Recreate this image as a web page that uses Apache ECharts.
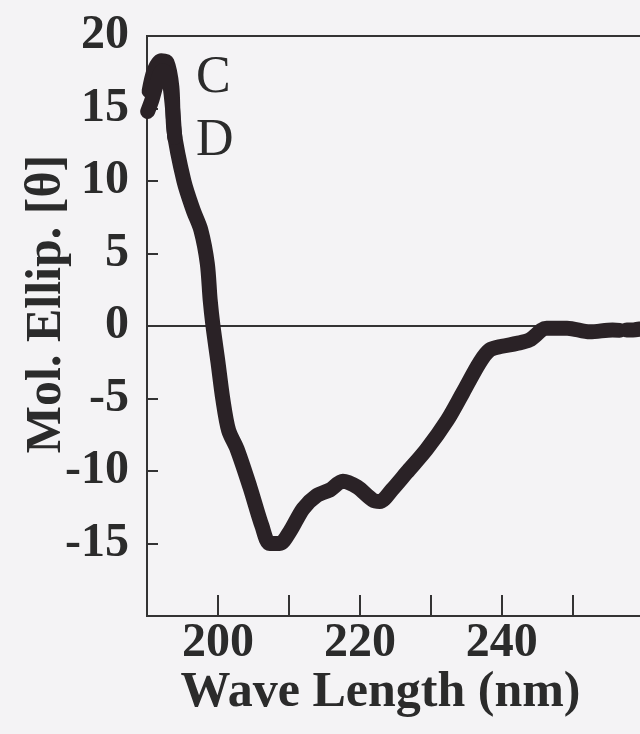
<!DOCTYPE html>
<html style="height: 100%">
  <head>
    <meta charset="utf-8" />
  </head>
  <body style="height: 100%; margin: 0; background: #f4f3f5">
    <div id="container" style="width: 640px; height: 734px"></div>

    <script
      type="text/javascript"
      src="https://cdn.jsdelivr.net/npm/echarts@6/dist/echarts.min.js"
    ></script>

    <script type="text/javascript">
      // CD spectrum, curves C and D (they overlap almost everywhere)
      var curveC = [
        [190.3, 16.2], [191.0, 17.6], [192.0, 18.3], [192.8, 18.2],
        [193.5, 16.5], [193.8, 13.5], [195.2, 10.0], [196.5, 8.0],
        [197.6, 6.6], [198.5, 4.3], [198.9, 1.8], [199.3, 0.0],
        [200.0, -2.5], [200.7, -5.1], [201.5, -7.2], [202.7, -8.5],
        [204.5, -11.1], [206.2, -13.8], [207.3, -15.0], [208.7, -15.0],
        [210.1, -14.2], [212.0, -12.6], [213.9, -11.7], [215.8, -11.3],
        [217.6, -10.7], [219.6, -11.1], [221.8, -12.0], [222.8, -12.1],
        [224.5, -11.3], [226.6, -10.1], [229.4, -8.5], [232.3, -6.5],
        [234.5, -4.6], [236.9, -2.5], [238.3, -1.65], [240.0, -1.4],
        [242.1, -1.2], [243.9, -0.96], [246.3, -0.15], [249.2, -0.15],
        [252.4, -0.4], [255.6, -0.27], [256.6, -0.3]
      ];
      var curveCTail = [[257.6, -0.27], [258.5, -0.27], [260.2, -0.15], [262.0, -0.1]];
      var curveD = [
        [190.1, 14.8], [190.7, 15.6], [191.4, 16.8], [192.2, 17.6],
        [193.0, 17.2], [193.6, 15.0], [193.9, 13.0]
      ];

      var xLabels = [200, 220, 240];
      var xTicks = [200, 210, 220, 230, 240, 250, 260];
      var yLabels = [-15, -10, -5, 0, 5, 10, 15, 20];

      var ink = "#2a2226";
      var textColor = "#2b2b2b";
      var serif = "Liberation Serif";

      var dom = document.getElementById("container");
      var myChart = echarts.init(dom);

      function lineSeries(name, data, withZero) {
        var s = {
          name: name,
          type: "line",
          data: data,
          showSymbol: false,
          smooth: 0.3,
          lineStyle: { color: ink, width: 15, cap: "round", join: "round" },
          z: 3,
        };
        if (withZero) {
          s.markLine = {
            silent: true,
            symbol: "none",
            label: { show: false },
            lineStyle: { color: "#333", width: 2, type: "solid" },
            data: [{ yAxis: 0 }],
            z: 1,
          };
        }
        return s;
      }

      var option = {
        backgroundColor: "#f4f3f5",
        animation: false,
        grid: {
          left: 147,
          top: 36,
          width: 511,
          height: 580,
          outerBoundsMode: "none",
          containLabel: false,
          show: true,
          borderColor: "#333",
          borderWidth: 2,
          backgroundColor: "transparent",
        },
        xAxis: {
          type: "value",
          min: 190,
          max: 262,
          interval: 10,
          name: "Wave Length (nm)",
          nameLocation: "middle",
          nameGap: 52,
          nameMoveOverlap: false,
          nameTextStyle: {
            fontFamily: serif,
            fontWeight: "bold",
            fontSize: 50,
            color: textColor,
            padding: [0, 44, 0, 0],
          },
          axisLine: { onZero: false, lineStyle: { color: "#333", width: 2 } },
          axisTick: {
            inside: true,
            length: 21,
            customValues: xTicks,
            lineStyle: { color: "#333", width: 2 },
          },
          axisLabel: {
            customValues: xLabels,
            margin: 4,
            fontFamily: serif,
            fontWeight: "bold",
            fontSize: 48,
            color: textColor,
          },
          splitLine: { show: false },
        },
        yAxis: {
          type: "value",
          min: -20,
          max: 20,
          interval: 5,
          name: "Mol. Ellip. [θ]",
          nameLocation: "middle",
          nameGap: 75,
          nameMoveOverlap: false,
          nameTextStyle: {
            fontFamily: serif,
            fontWeight: "bold",
            fontSize: 50,
            color: textColor,
            padding: [0, 0, 0, 44],
          },
          axisLine: { onZero: false, lineStyle: { color: "#333", width: 2 } },
          axisTick: {
            inside: true,
            length: 11,
            customValues: yLabels,
            lineStyle: { color: "#333", width: 2 },
          },
          axisLabel: {
            customValues: yLabels,
            margin: 18,
            fontFamily: serif,
            fontWeight: "bold",
            fontSize: 48,
            color: textColor,
          },
          splitLine: { show: false },
        },
        graphic: [
          {
            type: "text",
            left: 196,
            top: 52,
            style: { text: "C", font: "52px 'Liberation Serif'", fill: textColor },
          },
          {
            type: "text",
            left: 196,
            top: 115,
            style: { text: "D", font: "52px 'Liberation Serif'", fill: textColor },
          },
        ],
        series: [
          lineSeries("C", curveC, true),
          lineSeries("C", curveCTail, false),
          lineSeries("D", curveD, false),
        ],
      };

      myChart.setOption(option);
    </script>
  </body>
</html>
